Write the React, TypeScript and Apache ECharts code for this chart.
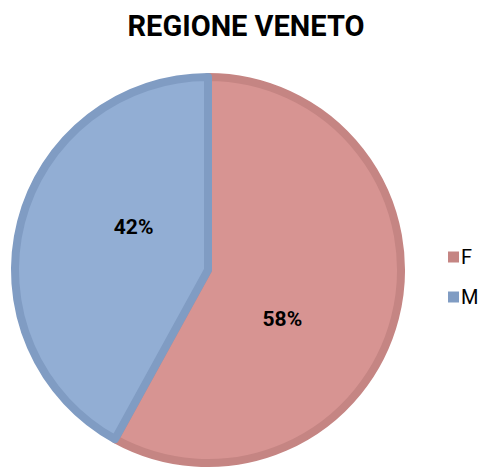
import React, { useEffect, useRef } from "react";
import * as echarts from "echarts";

const titleText = "REGIONE VENETO";
const categories = ["F", "M"];
const values = [58, 42];
const fillColors = ["#D79492", "#92AED4"];
const borderColors = ["#C58583", "#809CC3"];
const labelOffsets = [
  [-22, 24],
  [22, -18],
];

export default function App() {
  const ref = useRef<HTMLDivElement>(null);
  useEffect(() => {
    if (!ref.current) return;
    const chart = echarts.init(ref.current, null, { renderer: "svg" });
    chart.setOption({
      animation: false,
      backgroundColor: "#ffffff",
      title: {
        text: titleText,
        left: 241,
        textAlign: "center",
        top: 6,
        textStyle: {
          fontFamily: "Roboto",
          fontWeight: "bold",
          fontSize: 29,
          color: "#000000",
        },
      },
      legend: {
        orient: "vertical",
        left: 443,
        top: 242,
        itemWidth: 11,
        itemHeight: 11,
        itemGap: 20,
        icon: "rect",
        textStyle: {
          fontFamily: "Roboto",
          fontSize: 20,
          color: "#000000",
          padding: [0, 0, 0, -3],
        },
        data: categories.map((c, i) => ({
          name: c,
          itemStyle: { color: borderColors[i], borderWidth: 0 },
        })),
      },
      series: [
        {
          type: "pie",
          center: [208, 270],
          radius: 193,
          startAngle: 90,
          clockwise: true,
          data: categories.map((c, i) => ({
            name: c,
            value: values[i],
            itemStyle: {
              color: fillColors[i],
              borderColor: borderColors[i],
              borderWidth: 8,
            },
          })),
          label: {
            show: true,
            position: "inside",
            formatter: (p: any) => `${p.value}%`,
            fontFamily: "Roboto",
            fontWeight: "bold",
            fontSize: 21,
            color: "#000000",
          },
          labelLine: { show: false },
          labelLayout: (p: any) => ({
            dx: labelOffsets[p.dataIndex][0],
            dy: labelOffsets[p.dataIndex][1],
          }),
          emphasis: { disabled: true },
        },
      ],
    });
    return () => chart.dispose();
  }, []);
  return (
    <div
      ref={ref}
      style={{ position: "fixed", left: 0, top: 0, width: 480, height: 468 }}
    />
  );
}
